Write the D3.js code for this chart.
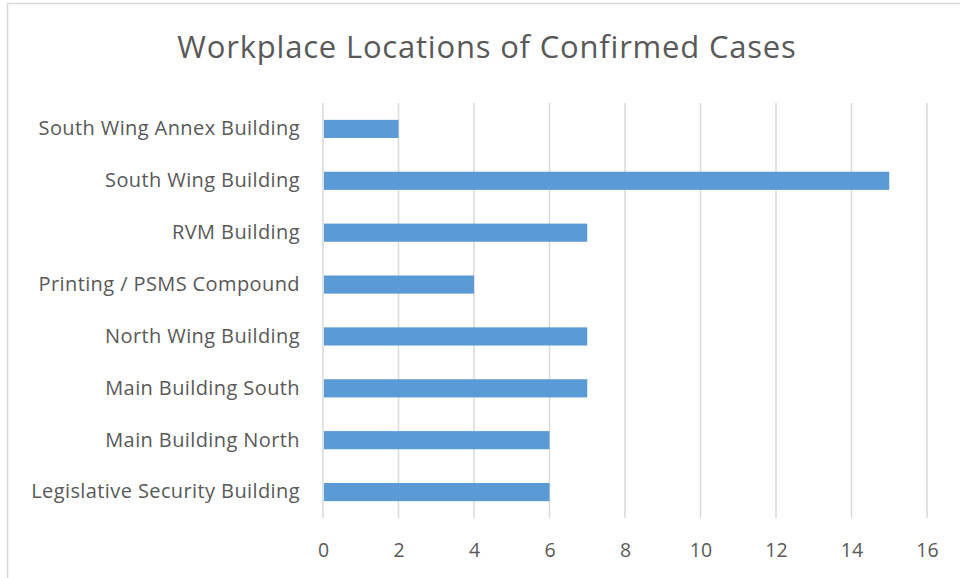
<!DOCTYPE html>
<html>
<head>
<meta charset="utf-8">
<script src="https://cdn.jsdelivr.net/npm/d3@7"></script>
<style>
  body { margin: 0; background: #fff; }
  text { font-family: "Open Sans", "Liberation Sans", sans-serif; fill: #595959; }
</style>
</head>
<body>
<div id="chart"></div>
<script>
var width = 960, height = 578;

// data, top to bottom as shown
var categories = [
    "South Wing Annex Building",
    "South Wing Building",
    "RVM Building",
    "Printing / PSMS Compound",
    "North Wing Building",
    "Main Building South",
    "Main Building North",
    "Legislative Security Building"
];
var cases = [2, 15, 7, 4, 7, 7, 6, 6];
var xTicks = [0, 2, 4, 6, 8, 10, 12, 14, 16];

var margin = {top: 103, right: 33, bottom: 60, left: 323};

var svg = d3.select("#chart").append("svg")
    .attr("width", width)
    .attr("height", height);

// chart border
svg.append("rect")
    .attr("x", 7.5).attr("y", 3.5)
    .attr("width", width).attr("height", height)
    .attr("fill", "none")
    .attr("stroke", "#d9d9d9")
    .attr("stroke-width", 1.5);

var x = d3.scaleLinear()
    .domain([0, 16])
    .range([margin.left, width - margin.right]);

var y = d3.scaleBand()
    .domain(categories)
    .range([margin.top, 518])
    .paddingInner(0.65)
    .paddingOuter(0.325);

// gridlines
svg.append("g")
    .selectAll("line")
    .data(xTicks)
    .enter().append("line")
    .attr("x1", function(d) { return x(d); })
    .attr("x2", function(d) { return x(d); })
    .attr("y1", margin.top)
    .attr("y2", 518)
    .attr("stroke", "#d9d9d9")
    .attr("stroke-width", 1.5);

// bars
svg.append("g")
    .selectAll("rect")
    .data(categories)
    .enter().append("rect")
    .attr("x", x(0) + 1)
    .attr("y", function(d) { return y(d); })
    .attr("width", function(d, i) { return x(cases[i]) - x(0) - 1; })
    .attr("height", y.bandwidth())
    .attr("fill", "#5b9bd5");

// x axis labels
var xAxis = d3.axisBottom(x).tickValues(xTicks).tickSize(0).tickPadding(0);
var gx = svg.append("g")
    .attr("transform", "translate(0,550)")
    .call(xAxis);
gx.select(".domain").remove();
gx.selectAll("text")
    .attr("dy", "0.35em")
    .style("font-size", "19.5px");

// category labels
var yAxis = d3.axisLeft(y).tickSize(0).tickPadding(23);
var gy = svg.append("g")
    .attr("transform", "translate(" + margin.left + ",0)")
    .call(yAxis);
gy.select(".domain").remove();
gy.selectAll("text")
    .style("font-size", "20px")
    .style("letter-spacing", "0.4px");

// title
svg.append("text")
    .attr("x", 487)
    .attr("y", 47)
    .attr("dy", "0.35em")
    .attr("text-anchor", "middle")
    .style("font-size", "31px")
    .style("letter-spacing", "0.8px")
    .text("Workplace Locations of Confirmed Cases");
</script>
</body>
</html>
